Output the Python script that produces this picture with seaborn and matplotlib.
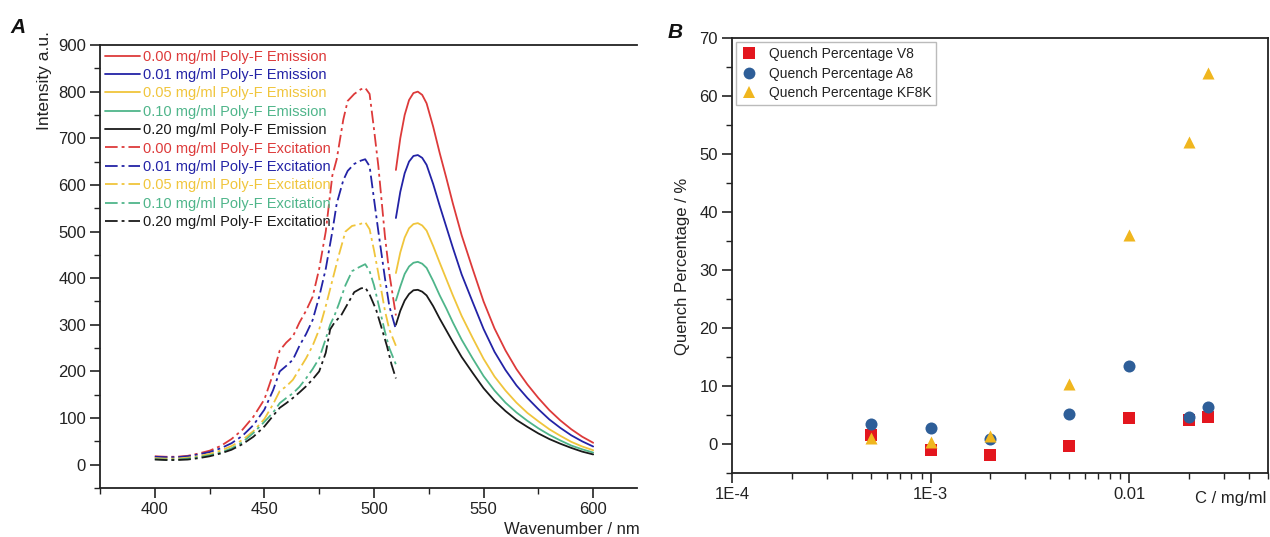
import numpy as np
import pandas as pd
import matplotlib
matplotlib.use("Agg")
import matplotlib.pyplot as plt
import seaborn as sns
from matplotlib.lines import Line2D
from matplotlib.ticker import MultipleLocator, FixedLocator, FixedFormatter, LogLocator, NullFormatter

# ---------------- data: panel A ----------------
concentrations = ["0.00", "0.01", "0.05", "0.10", "0.20"]
series_colors = ["#dd3a3a", "#2323a6", "#f0c53c", "#4fb58a", "#1a1a1a"]

em_nm = [510, 512, 514, 516, 518, 520, 522, 524, 527, 530, 533, 536, 540, 545, 550,
         555, 560, 565, 570, 575, 580, 585, 590, 595, 600]
em_000 = [632, 700, 750, 782, 797, 800, 793, 775, 725, 668, 615, 560, 492, 420, 350,
          292, 245, 205, 172, 143, 117, 95, 76, 60, 47]
em_001 = [529, 585, 625, 650, 662, 664, 658, 643, 602, 555, 510, 465, 408, 349, 291,
          242, 203, 170, 143, 119, 97, 79, 63, 50, 39]
em_005 = [411, 455, 487, 507, 516, 518, 513, 502, 469, 433, 398, 363, 319, 272, 227,
          189, 159, 133, 111, 93, 76, 62, 49, 39, 31]
em_010 = [352, 382, 409, 425, 433, 435, 431, 422, 394, 363, 335, 305, 268, 228, 190,
          159, 133, 112, 94, 78, 64, 52, 41, 33, 26]
em_020 = [300, 330, 352, 366, 374, 375, 371, 363, 340, 313, 288, 263, 231, 197, 164,
          137, 115, 96, 81, 67, 55, 45, 36, 28, 22]

ex_nm_000 = [400, 405, 410, 415, 420, 425, 430, 435, 440, 445, 450, 454, 457, 460, 463, 466,
             469, 472, 475, 478, 481, 483, 486, 488, 491, 494, 496, 498, 500, 502, 505, 507, 510]
ex_000 = [18, 17, 17, 19, 24, 30, 40, 55, 75, 103, 140, 195, 245, 262, 275, 305,
          330, 360, 420, 500, 620, 655, 740, 780, 795, 805, 808, 795, 720, 640, 490, 410, 320]
ex_nm_001 = [400, 405, 410, 415, 420, 425, 430, 435, 440, 445, 450, 454, 457, 460, 463, 466,
             469, 472, 475, 478, 481, 483, 486, 488, 491, 494, 496, 498, 500, 502, 505, 507, 510]
ex_001 = [17, 16, 16, 18, 22, 27, 35, 46, 62, 85, 118, 160, 200, 212, 225, 255,
          280, 310, 360, 420, 500, 560, 610, 630, 645, 652, 655, 640, 570, 500, 400, 340, 290]
ex_nm_005 = [400, 405, 410, 415, 420, 425, 430, 435, 440, 445, 450, 454, 457, 460, 463, 466,
             469, 472, 475, 478, 481, 484, 487, 490, 493, 496, 498, 500, 502, 505, 507, 510]
ex_005 = [14, 13, 13, 15, 18, 23, 30, 40, 53, 72, 98, 130, 158, 168, 182, 205,
          228, 255, 290, 340, 395, 450, 500, 512, 515, 520, 505, 460, 410, 330, 290, 255]
ex_nm_010 = [400, 405, 410, 415, 420, 425, 430, 435, 440, 445, 450, 454, 457, 460, 463, 466,
             469, 472, 475, 478, 480, 482, 484, 487, 490, 493, 496, 498, 500, 502, 505, 507, 510]
ex_010 = [12, 11, 11, 13, 16, 20, 26, 35, 48, 68, 92, 112, 132, 143, 153, 167,
          185, 205, 228, 270, 300, 320, 345, 385, 415, 423, 430, 415, 385, 345, 285, 250, 215]
ex_nm_020 = [400, 405, 410, 415, 420, 425, 430, 435, 440, 445, 450, 454, 457, 460, 463, 466,
             469, 472, 475, 478, 480, 482, 485, 488, 491, 494, 496, 498, 501, 504, 506, 508, 510]
ex_020 = [11, 10, 10, 11, 14, 18, 24, 32, 44, 60, 82, 105, 122, 132, 143, 155,
          168, 183, 200, 240, 290, 305, 320, 345, 370, 378, 380, 365, 332, 285, 253, 215, 185]

em_series = [em_000, em_001, em_005, em_010, em_020]
ex_x = [ex_nm_000, ex_nm_001, ex_nm_005, ex_nm_010, ex_nm_020]
ex_series = [ex_000, ex_001, ex_005, ex_010, ex_020]

# ---------------- data: panel B ----------------
conc_mgml = [5e-4, 1e-3, 2e-3, 5e-3, 1e-2, 2e-2, 2.5e-2]
quench_v8 = [1.5, -1.0, -1.9, -0.3, 4.5, 4.2, 4.7]
quench_a8 = [3.5, 2.8, 0.9, 5.1, 13.5, 4.7, 6.4]
quench_kf8k = [1.1, 0.3, 1.3, 10.3, 36.0, 52.0, 64.0]
quench_names = ["Quench Percentage V8", "Quench Percentage A8", "Quench Percentage KF8K"]
quench_colors = ["#e3161e", "#2e5e98", "#f0b61e"]
quench_markers = ["s", "o", "^"]
xB_ticks = [1e-4, 1e-3, 1e-2]
xB_ticklabels = ["1E-4", "1E-3", "0.01"]

# ---------------- style ----------------
sns.set_style("ticks")
plt.rcParams["font.family"] = ["Liberation Sans", "DejaVu Sans"]
plt.rcParams["axes.linewidth"] = 1.3
txt = "#222222"

W, H = 1270, 537
fig = plt.figure(figsize=(W / 100, H / 100), dpi=100)

def px_axes(l, t, r, b):
    return fig.add_axes([l / W, (H - b) / H, (r - l) / W, (b - t) / H])

axA = px_axes(100, 45, 637, 488)
axB = px_axes(732, 38, 1268, 473)

# ---------------- panel A ----------------
dashdot = (0, (7, 2.2, 1.6, 2.2))
handles, labels = [], []
for c, col, y in zip(concentrations, series_colors, em_series):
    sns.lineplot(x=em_nm, y=y, ax=axA, color=col, lw=1.3, linestyle="-")
    handles.append(Line2D([], [], color=col, lw=1.3, linestyle="-"))
    labels.append(f"{c} mg/ml Poly-F Emission")
for c, col, x, y in zip(concentrations, series_colors, ex_x, ex_series):
    sns.lineplot(x=x, y=y, ax=axA, color=col, lw=1.3, linestyle=dashdot)
    handles.append(Line2D([], [], color=col, lw=1.3, linestyle=dashdot))
    labels.append(f"{c} mg/ml Poly-F Excitation")

axA.set_xlim(375, 620)
axA.set_ylim(-50, 900)
axA.xaxis.set_major_locator(MultipleLocator(50))
axA.xaxis.set_minor_locator(MultipleLocator(25))
axA.yaxis.set_major_locator(MultipleLocator(100))
axA.yaxis.set_minor_locator(MultipleLocator(50))
axA.spines["right"].set_visible(False)
axA.set_xlabel("")
axA.set_ylabel("")

legA = axA.legend(handles, labels, loc="upper left", bbox_to_anchor=(0.0, 1.0),
                  frameon=False, fontsize=10.5, handlelength=2.4, handletextpad=0.2,
                  labelspacing=0.3, borderaxespad=0.0, borderpad=0.32)
for t, col in zip(legA.get_texts(), series_colors * 2):
    t.set_color(col)

# ---------------- panel B ----------------
dfB = pd.DataFrame({
    "conc": conc_mgml * 3,
    "quench": quench_v8 + quench_a8 + quench_kf8k,
    "series": [quench_names[0]] * len(conc_mgml) + [quench_names[1]] * len(conc_mgml)
              + [quench_names[2]] * len(conc_mgml),
})
for name, col, mk in zip(quench_names, quench_colors, quench_markers):
    sub = dfB[dfB["series"] == name]
    sns.scatterplot(data=sub, x="conc", y="quench", ax=axB, color=col, marker=mk,
                    s=75, linewidth=0, legend=False, zorder=3)

axB.set_xscale("log")
axB.set_xlim(1e-4, 0.05)
axB.set_ylim(-5, 70)
axB.xaxis.set_major_locator(FixedLocator(xB_ticks))
axB.xaxis.set_major_formatter(FixedFormatter(xB_ticklabels))
axB.xaxis.set_minor_locator(LogLocator(base=10, subs=np.arange(2, 10)))
axB.xaxis.set_minor_formatter(NullFormatter())
axB.yaxis.set_major_locator(MultipleLocator(10))
axB.yaxis.set_minor_locator(MultipleLocator(5))
axB.set_xlabel("")
axB.set_ylabel("")

hB = [Line2D([], [], color=c, marker=m, linestyle="none", markersize=8.5, markeredgewidth=0)
      for c, m in zip(quench_colors, quench_markers)]
legB = axB.legend(hB, quench_names, loc="upper left", bbox_to_anchor=(0.0, 1.0),
                  fontsize=10, frameon=True, fancybox=False, handlelength=1.2,
                  handletextpad=0.8, labelspacing=0.4, borderaxespad=0.3, borderpad=0.35)
legB.get_frame().set_edgecolor("#aaaaaa")
legB.get_frame().set_linewidth(1.0)
for t in legB.get_texts():
    t.set_color(txt)

for ax in (axA, axB):
    ax.tick_params(which="major", direction="out", length=7, width=1.2, labelsize=12,
                   colors=txt, pad=3, top=False, right=False)
    ax.tick_params(which="minor", direction="out", length=4, width=1.0,
                   top=False, right=False, color=txt)
    for s in ax.spines.values():
        s.set_color("#222222")

# ---------------- text ----------------
fig.text(45 / W, 1 - 80 / H, "Intensity a.u.", rotation=90, ha="center", va="center",
         fontsize=12.5, color=txt)
fig.text(572 / W, 1 - 530 / H, "Wavenumber / nm", ha="center", va="center",
         fontsize=12, color=txt)
fig.text(682 / W, 1 - 266 / H, "Quench Percentage / %", rotation=90, ha="center",
         va="center", fontsize=12, color=txt)
fig.text(1266 / W, 1 - 498 / H, "C / mg/ml", ha="right", va="center", fontsize=12, color=txt)
fig.text(10 / W, 1 - 28 / H, "A", fontsize=15, fontweight="bold", fontstyle="italic",
         ha="left", va="center", color="#111111")
fig.text(668 / W, 1 - 32 / H, "B", fontsize=15, fontweight="bold", fontstyle="italic",
         ha="left", va="center", color="#111111")

fig.savefig("out.png", dpi=100, facecolor="white")
